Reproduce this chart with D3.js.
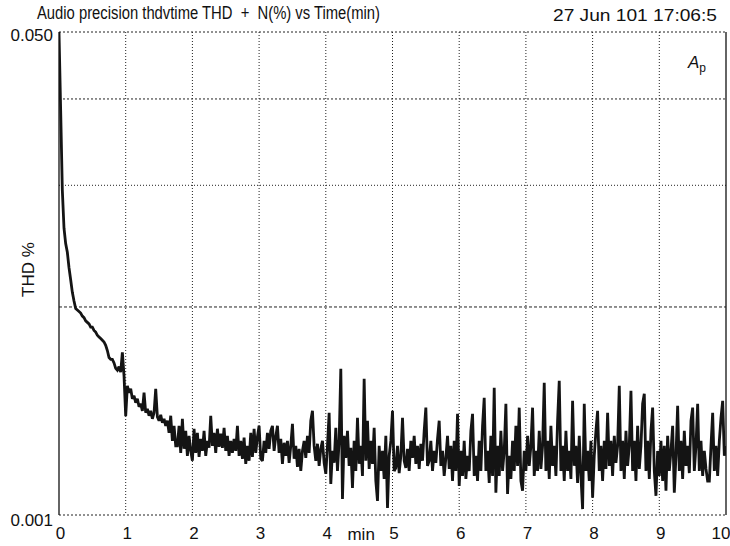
<!DOCTYPE html>
<html>
<head>
<meta charset="utf-8">
<script src="https://cdn.jsdelivr.net/npm/d3@7"></script>
<style>
  body { margin: 0; background: #fff; }
  text { font-family: "Liberation Sans", Arial, Helvetica, sans-serif; fill: #111; }
</style>
</head>
<body>
<div id="chart"></div>
<script>
// sweep: one reading every 0.025 min, 0 .. 10 min
const sampleStep = 0.025;

// THD+N (%) readings, warm-up part (0 .. 1.75 min)
const thdWarmup = [
  0.0500, 0.0385, 0.0295, 0.0260, 0.0247, 0.0240, 0.0228, 0.0219, 0.0210, 0.0204,
  0.0199, 0.0198, 0.0197, 0.0196, 0.0194, 0.0193, 0.0191, 0.0190, 0.0189, 0.0187,
  0.0187, 0.0185, 0.0184, 0.0182, 0.0181, 0.0180, 0.0179, 0.0178, 0.0176, 0.0173,
  0.0169, 0.0168, 0.0168, 0.0166, 0.0163, 0.0162, 0.0164, 0.0161, 0.0172, 0.0159,
  0.0139, 0.01538, 0.01503, 0.01523, 0.01473, 0.01488, 0.01454, 0.01473, 0.01434, 0.01449,
  0.01415, 0.01503, 0.01406, 0.01425, 0.01392, 0.01415, 0.01378, 0.01406, 0.01523, 0.01387,
  0.01369, 0.01396, 0.01360, 0.01378, 0.01346, 0.01369, 0.01315, 0.01392, 0.01280, 0.01346,
  0.01259
];

// THD+N (%) readings, settled / noisy part (1.775 .. 10 min)
const thdSettled = [
  0.01259, 0.01346, 0.01230, 0.01378, 0.01247, 0.01324, 0.01218, 0.01302, 0.01238, 0.01198,
  0.01333, 0.01230, 0.01315, 0.01214, 0.01289, 0.01238, 0.01324, 0.01218, 0.01280, 0.01251,
  0.01392, 0.01259, 0.01315, 0.01230, 0.01333, 0.01255, 0.01311, 0.01251, 0.01337, 0.01238,
  0.01302, 0.01218, 0.01280, 0.01230, 0.01289, 0.01238, 0.01346, 0.01218, 0.01280, 0.01206,
  0.01294, 0.01186, 0.01259, 0.01198, 0.01315, 0.01214, 0.01333, 0.01230, 0.01298, 0.01346,
  0.01206, 0.01198, 0.01280, 0.01230, 0.01315, 0.01247, 0.01324, 0.01346, 0.01238, 0.01298,
  0.01346, 0.01230, 0.01289, 0.01186, 0.01272, 0.01218, 0.01280, 0.01190, 0.01259, 0.01355,
  0.01206, 0.01259, 0.01174, 0.01247, 0.01158, 0.01238, 0.01280, 0.01210, 0.01302, 0.01230,
  0.01369, 0.01415, 0.01259, 0.01198, 0.01268, 0.01178, 0.01247, 0.01280, 0.01190, 0.01147,
  0.01259, 0.01406, 0.01109, 0.01238, 0.01190, 0.01337, 0.01158, 0.01280, 0.01628, 0.01055,
  0.01302, 0.01210, 0.01324, 0.01178, 0.01251, 0.01094, 0.01280, 0.01158, 0.01383, 0.01186,
  0.01259, 0.01139, 0.01575, 0.01198, 0.01369, 0.01166, 0.01280, 0.01186, 0.01337, 0.01120,
  0.01048, 0.01259, 0.01158, 0.01238, 0.01128, 0.01302, 0.01024, 0.01218, 0.01280, 0.01415,
  0.01158, 0.01170, 0.01259, 0.01150, 0.01218, 0.01383, 0.01198, 0.01170, 0.01247, 0.01158,
  0.01280, 0.01210, 0.01302, 0.01186, 0.01259, 0.01166, 0.01268, 0.01198, 0.01324, 0.01430,
  0.01178, 0.01198, 0.01280, 0.01158, 0.01238, 0.01190, 0.01289, 0.01369, 0.01178, 0.01238,
  0.01139, 0.01210, 0.01302, 0.01166, 0.01259, 0.01120, 0.01280, 0.01158, 0.01401, 0.01102,
  0.01238, 0.01139, 0.01280, 0.01128, 0.01218, 0.01158, 0.01324, 0.01401, 0.01139, 0.01218,
  0.01120, 0.01280, 0.01158, 0.01346, 0.01478, 0.01158, 0.01238, 0.01113, 0.01302, 0.01139,
  0.01528, 0.01077, 0.01259, 0.01139, 0.01324, 0.01158, 0.01238, 0.01449, 0.01073, 0.01218,
  0.01128, 0.01280, 0.01158, 0.01346, 0.01178, 0.01430, 0.01120, 0.01084, 0.01238, 0.01158,
  0.01302, 0.01178, 0.01259, 0.01430, 0.01139, 0.01238, 0.01158, 0.01324, 0.01166, 0.01259,
  0.01554, 0.01158, 0.01280, 0.01128, 0.01346, 0.01178, 0.01259, 0.01139, 0.01369, 0.01564,
  0.01158, 0.01259, 0.01120, 0.01324, 0.01158, 0.01238, 0.01128, 0.01463, 0.01178, 0.01259,
  0.01113, 0.01302, 0.01139, 0.01020, 0.01449, 0.01158, 0.01238, 0.01120, 0.01280, 0.01059,
  0.01218, 0.01324, 0.01415, 0.01158, 0.01259, 0.01120, 0.01280, 0.01166, 0.01406, 0.01178,
  0.01280, 0.01139, 0.01302, 0.01190, 0.01259, 0.01538, 0.01158, 0.01280, 0.01128, 0.01324,
  0.01178, 0.01259, 0.01513, 0.01158, 0.01280, 0.01120, 0.01346, 0.01166, 0.01259, 0.01449,
  0.01498, 0.01158, 0.01280, 0.01128, 0.01324, 0.01430, 0.01158, 0.01066, 0.01238, 0.01139,
  0.01280, 0.01120, 0.01259, 0.01084, 0.01302, 0.01158, 0.01238, 0.01346, 0.01077, 0.01218,
  0.01439, 0.01158, 0.01280, 0.01128, 0.01324, 0.01178, 0.01259, 0.01150, 0.01369, 0.01430,
  0.01158, 0.01259, 0.01449, 0.01158, 0.01280, 0.01139, 0.01238, 0.01166, 0.01120, 0.01120,
  0.01259, 0.01406, 0.01158, 0.01259, 0.01139, 0.01280, 0.01383, 0.01463, 0.01218, 0.01259
];

const xTicks = [0, 1, 2, 3, 4, 5, 6, 7, 8, 9, 10];
const yGridLines = [0.04, 0.03, 0.02];
// labels as printed on the plot
const yTickValues = [0.05, 0.01];
const yTickLabels = ["0.050", "0.001"];

const titleText = "Audio precision thdvtime THD \u00a0+\u00a0 N(%) vs Time(min)";
const dateText = "27 Jun 101 17:06:5";

//------SETUP-----------------------------------------------------
const W = 730, H = 546;
const margin = {top: 32, right: 4, bottom: 31, left: 59};
const plotW = W - margin.left - margin.right;
const plotH = H - margin.top - margin.bottom;

const svg = d3.select("#chart").append("svg")
    .attr("width", W)
    .attr("height", H);

const g = svg.append("g")
    .attr("transform", `translate(${margin.left},${margin.top})`);

const x = d3.scaleLinear().domain([0, 10]).range([0, plotW]);
const y = d3.scaleLog().domain([0.01, 0.05]).range([plotH, 0]);

const readings = thdWarmup.concat(thdSettled)
    .map((v, i) => ({t: i * sampleStep, v: v}));

//------GRID-----------------------------------------------------
g.selectAll("line.vgrid")
    .data(xTicks.slice(1, -1))
    .enter().append("line")
    .attr("class", "vgrid")
    .attr("x1", d => x(d)).attr("x2", d => x(d))
    .attr("y1", 0).attr("y2", plotH)
    .attr("stroke", "#222")
    .attr("stroke-width", 1)
    .attr("stroke-dasharray", "1,2");

g.selectAll("line.hgrid")
    .data(yGridLines.concat(y.domain()))
    .enter().append("line")
    .attr("class", "hgrid")
    .attr("x1", 0).attr("x2", plotW)
    .attr("y1", d => y(d)).attr("y2", d => y(d))
    .attr("stroke", "#222")
    .attr("stroke-width", 1)
    .attr("stroke-dasharray", d => d === 0.02 ? "3,2" : (d === 0.03 ? "1,2" : "2,2"));

// left axis + right frame are solid
g.append("line")
    .attr("x1", 0).attr("x2", 0).attr("y1", 0).attr("y2", plotH)
    .attr("stroke", "#111").attr("stroke-width", 1.3);
g.append("line")
    .attr("x1", plotW).attr("x2", plotW).attr("y1", 0).attr("y2", plotH)
    .attr("stroke", "#111").attr("stroke-width", 1.3);

//------TRACE-----------------------------------------------------
svg.append("clipPath").attr("id", "plot-clip")
    .append("rect")
    .attr("x", 0).attr("y", -1).attr("width", plotW).attr("height", plotH + 2);

const line = d3.line()
    .x(d => x(d.t))
    .y(d => y(d.v));

g.append("path")
    .datum(readings)
    .attr("clip-path", "url(#plot-clip)")
    .attr("fill", "none")
    .attr("stroke", "#141414")
    .attr("stroke-width", 2.8)
    .attr("stroke-linejoin", "miter")
    .attr("stroke-miterlimit", 2)
    .attr("d", line);

//------AXES-----------------------------------------------------
const xAxis = g.append("g")
    .attr("transform", `translate(0,${plotH})`)
    .call(d3.axisBottom(x).tickValues(xTicks).tickSize(0).tickPadding(12).tickFormat(d3.format("d")));
xAxis.select(".domain").remove();
xAxis.selectAll("text")
    .attr("font-size", 17)
    .attr("font-family", null)
    .attr("fill", "#111")
    .attr("text-anchor", d => d === 10 ? "end" : "middle")
    .attr("dx", d => d === 10 ? 4 : 1);

const yAxis = g.append("g")
    .call(d3.axisLeft(y).tickValues(yTickValues).tickSize(0).tickPadding(6)
        .tickFormat((d, i) => yTickLabels[i]));
yAxis.select(".domain").remove();
yAxis.selectAll("text")
    .attr("font-size", 17)
    .attr("font-family", null)
    .attr("fill", "#111")
    .attr("dy", (d, i) => i === 0 ? "0.5em" : "0.6em");

// "min" unit between 4 and 5
g.append("text")
    .attr("x", x(4.53))
    .attr("y", plotH + 25)
    .attr("text-anchor", "middle")
    .attr("font-size", 17)
    .text("min");

// y title
svg.append("text")
    .attr("transform", `translate(34,${margin.top + plotH / 2 - 4}) rotate(-90)`)
    .attr("text-anchor", "middle")
    .attr("font-size", 17)
    .text("THD %");

//------TITLES-----------------------------------------------------
svg.append("text")
    .attr("x", 37).attr("y", 19)
    .attr("font-size", 17.5)
    .attr("textLength", 343)
    .attr("lengthAdjust", "spacingAndGlyphs")
    .text(titleText);

svg.append("text")
    .attr("x", 553).attr("y", 21)
    .attr("font-size", 17)
    .attr("textLength", 164)
    .attr("lengthAdjust", "spacingAndGlyphs")
    .text(dateText);

// A_p badge
const badge = svg.append("text")
    .attr("x", 688).attr("y", 68)
    .attr("font-size", 17);
badge.append("tspan").attr("font-style", "italic").text("A");
badge.append("tspan").attr("font-size", 12).attr("dy", 4).text("p");
</script>
</body>
</html>
